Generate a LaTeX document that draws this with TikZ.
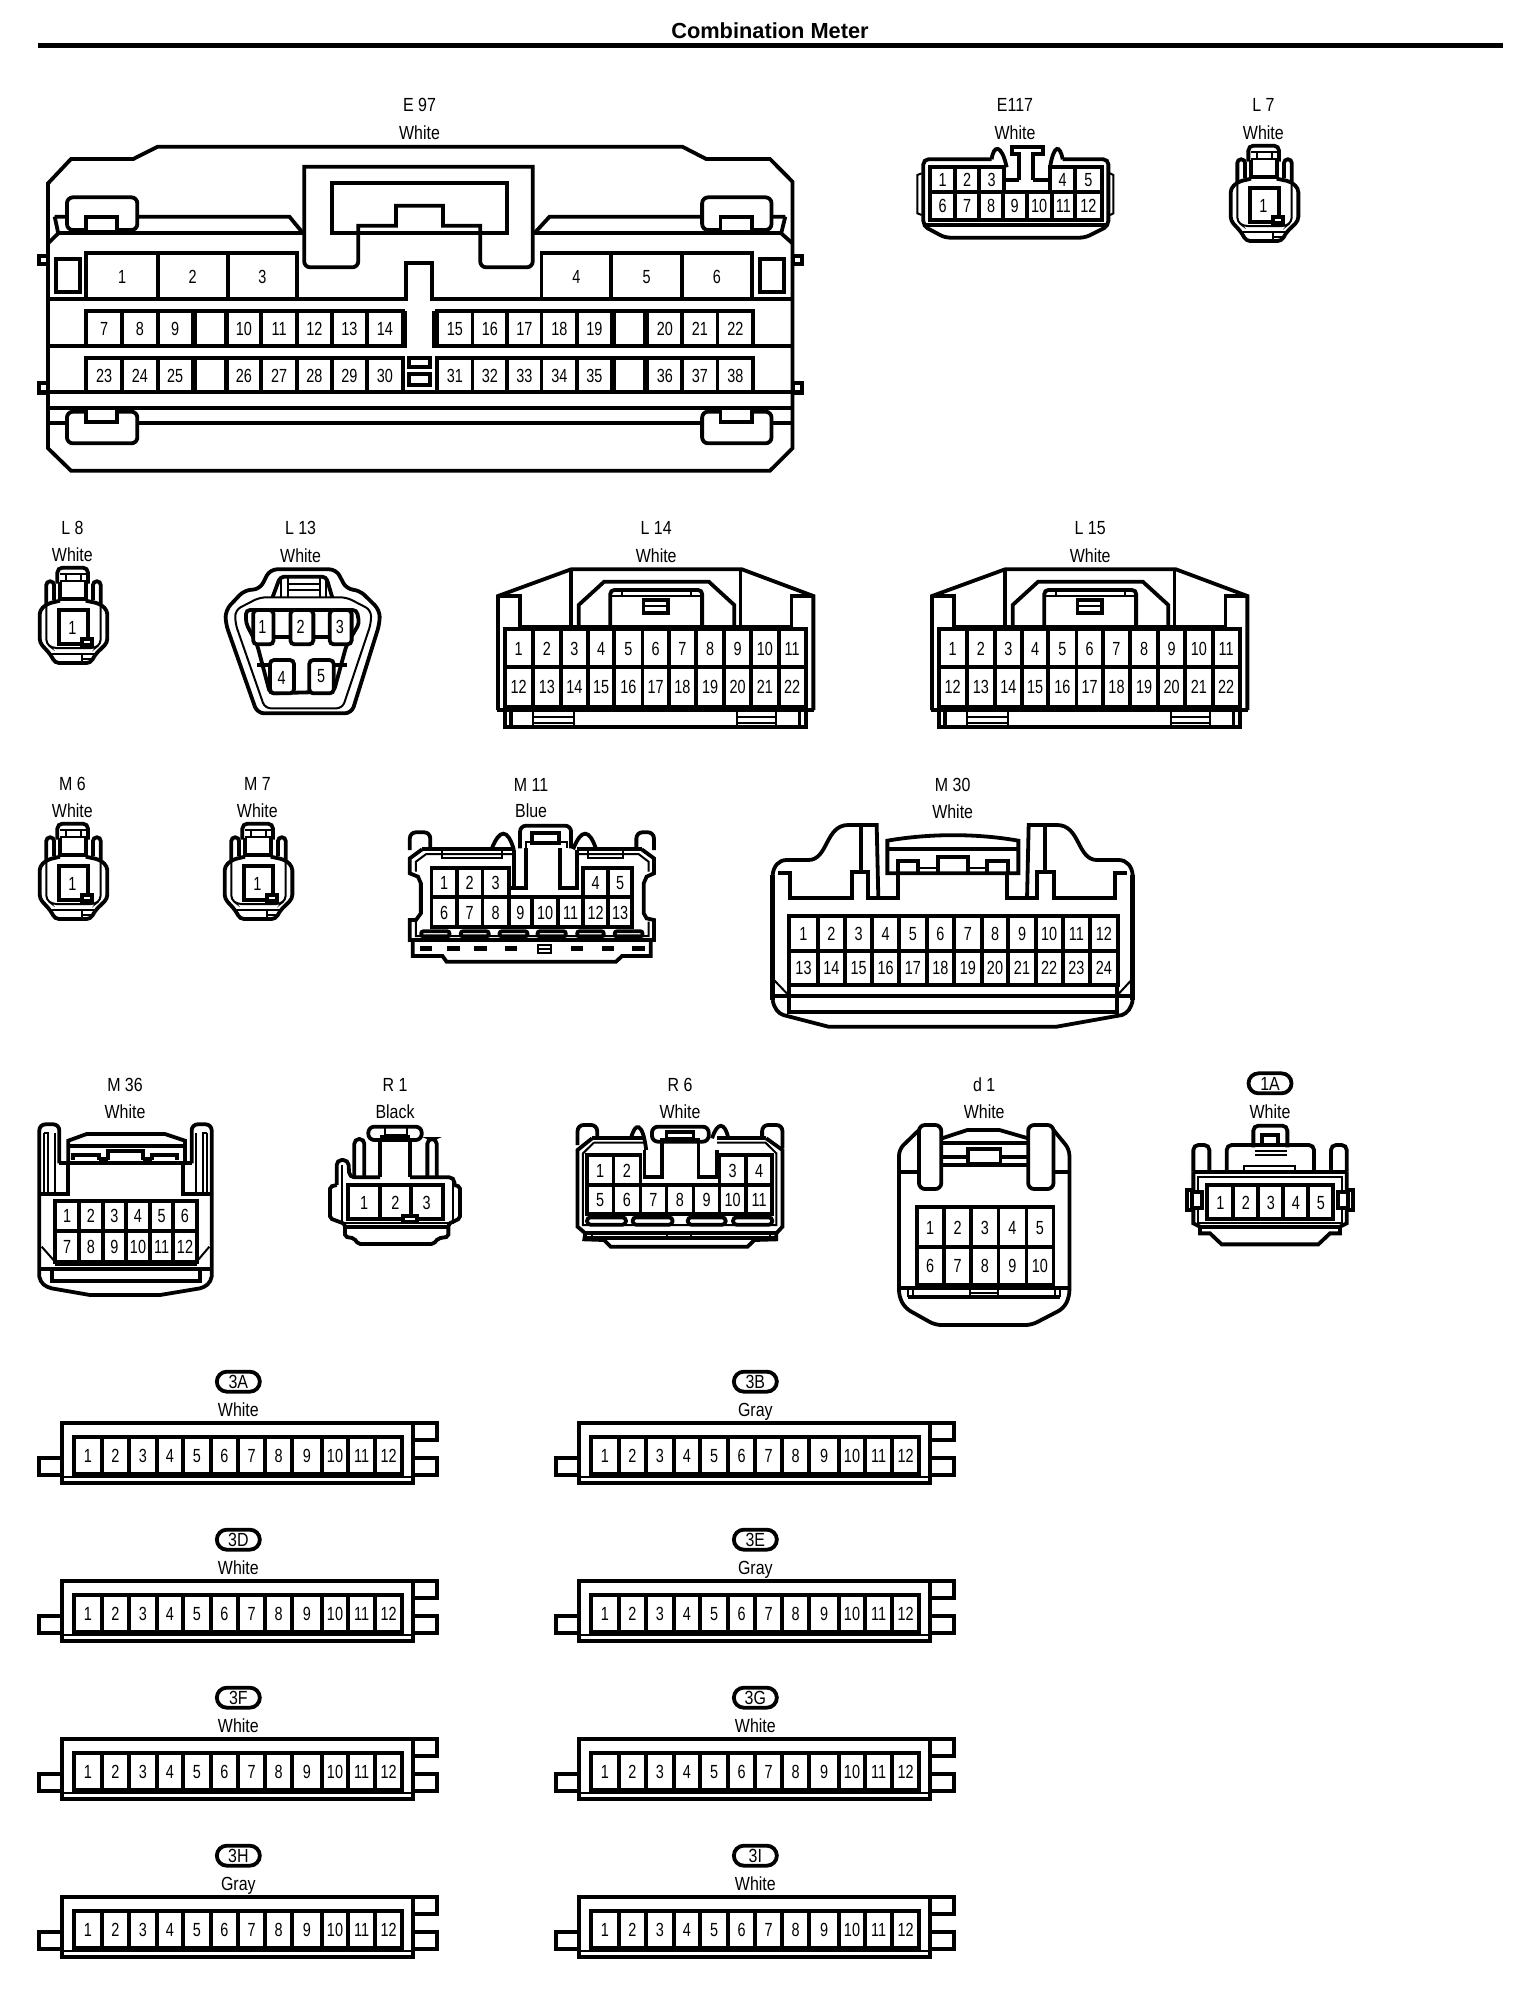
\documentclass[tikz,border=0pt]{standalone}
\usepackage{fontspec}
\usepackage{graphicx}
\setmainfont{Liberation Sans}
\newcounter{nid}
\tikzset{
  txt/.style={inner sep=0pt,outer sep=0pt,text height=7pt,text depth=0pt,font=\fontsize{9.5pt}{10pt}\selectfont},
  tn/.style={line width=1pt},
  wf/.style={fill=white},
  rd/.style={rounded corners=#1},
  pillbox/.style={draw,line width=1.9pt,rounded corners=5pt,minimum width=21.5pt,minimum height=10pt,inner sep=0pt,text height=7pt,text depth=0pt,font=\fontsize{9.5pt}{10pt}\selectfont},
  zA/.style={x=.2551pt,y=-.16667pt},
  zB/.style={x=.2041pt,y=-.16667pt},
  zC/.style={x=.16667pt,y=-.16667pt},
  zD/.style={x=.169pt,y=-.16667pt}
}
\newcommand\lbl[3]{\stepcounter{nid}\node[txt] (t\thenid) at (#1,#2) {\scalebox{.84}[1]{#3}};}
\newcommand\cellsx[4]{%
 \foreach \xb [count=\ii, remember=\xb as \xa (initially 0)] in {#3} {%
  \ifnum\ii>1
   \pgfmathsetmacro\xm{(\xa+\xb)/2}\pgfmathsetmacro\ym{(#1+#2)/2}\pgfmathtruncatemacro\pn{#4+\ii-2}%
   \stepcounter{nid}%
   \draw[wf] (\xa,#1) rectangle (\xb,#2);
   \node[txt] (n\thenid) at (\xm,\ym) {\scalebox{.76}[1]{\pn}};
  \fi}}
% ---- small one-pin connector (L7 family)
\newcommand\lsmall[3]{%
\begin{scope}[shift={(#1,#2)},zC]
 \lbl{1150}{75}{#3}\lbl{1150}{157}{White}
 \draw[rd=2.5pt] (1105,245)--(1105,197)--(1197,197)--(1197,245);
 \draw[tn] (1112,215)--(1190,215) (1112,238)--(1190,238) (1130,215)--(1130,238) (1175,215)--(1175,238);
 \draw (1113,240)--(1113,292)--(1190,292)--(1190,240);
 \draw[rd=1.8pt] (1072,312)--(1072,238)--(1095,238)--(1095,295);
 \draw[rd=1.8pt] (1212,295)--(1212,238)--(1235,238)--(1235,312);
 \draw[rd=2pt] (1113,296)--(1075,305)--(1052,325)--(1052,422)--(1085,458)--(1098,483)--(1205,483)--(1218,458)--(1255,422)--(1255,325)--(1232,305)--(1190,296);
 \draw[tn,rd=2pt] (1072,315)--(1072,425)--(1090,438)--(1218,438)--(1235,425)--(1235,315);
 \draw[tn] (1090,456)--(1218,456) (1180,456)--(1180,483) (1180,470)--(1205,470);
 \draw[wf] (1110,325) rectangle (1197,427);
 \draw[wf] (1178,412) rectangle (1210,430);
 \stepcounter{nid}\node[txt] (n\thenid) at (1150,375) {\scalebox{.76}[1]{1}};
\end{scope}}
% ---- L14 family
\newcommand\lbig[3]{%
\begin{scope}[shift={(#1,#2)},zA]
 \lbl{1247}{52}{#3}\lbl{1247}{137}{White}
 \draw (937,600)--(937,258)--(1080,178)--(1415,178)--(1555,258)--(1555,600);
 \draw (937,258)--(980,258)--(980,350)--(1080,350)--(1080,178);
 \draw (1555,258)--(1512,258)--(1512,350)--(1412,350)--(1412,178);
 \draw (1095,350)--(1095,285)--(1145,215)--(1350,215)--(1400,285)--(1400,350);
 \draw (1080,350)--(1412,350);
 \draw[rd=2pt] (1157,350)--(1157,240)--(1337,240)--(1337,350);
 \draw[tn] (1157,258)--(1337,258) (1180,240)--(1180,258) (1315,240)--(1315,258);
 \draw[wf] (1222,270) rectangle (1270,310);
 \draw[tn] (1222,288)--(1270,288);
 \draw (1080,350)--(1080,358) (1412,350)--(1412,358);
 \cellsx{358}{470}{950,1005,1060,1113,1165,1220,1272,1325,1380,1433,1487,1540}{1}
 \cellsx{470}{590}{950,1005,1060,1113,1165,1220,1272,1325,1380,1433,1487,1540}{12}
 \draw (935,600)--(1557,600);
 \draw (950,600)--(950,652)--(1540,652)--(1540,600);
 \draw (962,600)--(962,652) (1528,600)--(1528,652);
 \draw[tn] (1005,605)--(1005,652) (1085,605)--(1085,652) (1405,605)--(1405,652) (1482,605)--(1482,652);
 \draw[tn] (1005,622)--(1085,622) (1005,640)--(1085,640) (1405,622)--(1482,622) (1405,640)--(1482,640);
\end{scope}}
% ---- strip connector
\newcommand\stripc[4]{%
\begin{scope}[shift={(#1,#2)},zC]
 \stepcounter{nid}\node[pillbox] (p\thenid) at (655,65) {\scalebox{.84}[1]{#3}};
 \lbl{655}{148}{#4}
 \draw (1180,190)--(1252,190)--(1252,240)--(1180,240);
 \draw (1180,295)--(1252,295)--(1252,345)--(1180,345);
 \draw (127,295)--(58,295)--(58,345)--(127,345);
 \draw (127,190) rectangle (1180,370);
 \draw[tn] (127,352)--(1180,352);
 \cellsx{232}{342}{163,245,327,410,490,572,655,735,817,905,985,1065,1147}{1}
\end{scope}}
\begin{document}
\begin{tikzpicture}[x=.5pt,y=-.5pt,line width=1.9pt,line join=miter]
\useasboundingbox (0,0) rectangle (1536,1990);
\fill[white] (0,0) rectangle (1536,1990);
\node[inner sep=0pt,font=\bfseries\fontsize{10.9pt}{12pt}\selectfont] (title) at (770,31) {Combination Meter};
\coordinate (ruleL) at (38,45.7); \coordinate (ruleR) at (1503,45.7);
\draw[line width=2.3pt] (ruleL)--(ruleR);

% ============ E97
\begin{scope}[shift={(20,80)},zA]
 \lbl{783}{75}{E 97}\lbl{783}{157}{White}
 \draw (38,527) rectangle (55,553) (1516,527) rectangle (1532,553) (38,910) rectangle (55,940) (1516,910) rectangle (1532,940);
 \draw[wf] (55,310)--(100,237)--(222,237)--(270,200)--(1298,200)--(1345,237)--(1470,237)--(1514,305)--(1514,1105)--(1470,1172)--(100,1172)--(55,1105)--cycle;
 \draw (68,410)--(528,410)--(555,460) (75,460)--(68,410) (55,490)--(75,460);
 \draw (1500,410)--(1038,410)--(1008,460) (1492,460)--(1500,410) (1514,490)--(1492,460);
 \draw (75,460)--(555,460) (1008,460)--(1492,460);
 \draw[wf,rd=3pt] (92,352) rectangle (230,450);
 \draw[wf] (130,410) rectangle (190,456);
 \draw[wf,rd=3pt] (1337,352) rectangle (1473,450);
 \draw[wf] (1373,410) rectangle (1435,456);
 \draw[wf] (557,260) [rounded corners=3pt] --(557,562)--(663,562)--(663,500) [sharp corners] --(663,437)--(737,437)--(737,377)--(829,377)--(829,437)--(902,437)--(902,500) [rounded corners=3pt] --(902,562)--(1005,562)--(1005,500) [sharp corners] --(1005,260)--cycle;
 \draw (612,308) rectangle (955,460);
 \cellsx{520}{658}{130,270,407,543}{1}
 \cellsx{520}{658}{1022,1159,1297,1435}{4}
 \draw (70,538) rectangle (117,635) (1450,538) rectangle (1497,635);
 \draw (55,658)--(757,658)--(757,550)--(808,550)--(808,658)--(1514,658);
 \cellsx{693}{797}{130,200,270,338}{7}
 \draw (343,693) rectangle (403,797);
 \cellsx{693}{797}{405,473,543,611,680,750}{10}
 \cellsx{693}{797}{818,887,955,1022,1092,1160}{15}
 \draw (1165,693) rectangle (1225,797);
 \cellsx{693}{797}{1230,1298,1367,1437}{20}
 \draw (55,797)--(755,797)--(755,693) (1514,797)--(812,797)--(812,693);
 \cellsx{833}{937}{130,200,270,338}{23}
 \draw (343,833) rectangle (403,937);
 \cellsx{833}{937}{405,473,543,611,680,750}{26}
 \cellsx{833}{937}{818,887,955,1022,1092,1160}{31}
 \draw (1165,833) rectangle (1225,937);
 \cellsx{833}{937}{1230,1298,1367,1437}{36}
 \draw (763,833) rectangle (803,860) (763,882) rectangle (803,915);
 \draw (40,937)--(1532,937);
 \draw (55,983)--(1514,983) (55,1030)--(1514,1030);
 \draw[wf,rd=3pt] (92,995) rectangle (230,1090);
 \draw[wf] (130,985) rectangle (190,1027);
 \draw[wf,rd=3pt] (1337,995) rectangle (1473,1090);
 \draw[wf] (1373,985) rectangle (1435,1027);
\end{scope}

% ============ E117
\begin{scope}[shift={(880,80)},zC]
 \lbl{405}{75}{E117}\lbl{405}{157}{White}
 \draw[tn] (125,280)--(112,285)--(112,400)--(125,405) (690,280)--(700,285)--(700,400)--(690,405);
 \draw (335,238) .. controls (340,195) and (365,190) .. (380,262);
 \draw (510,262) .. controls (522,190) and (540,195) .. (548,238);
 \draw[rd=2.5pt] (335,238)--(130,238)--(130,438)--(195,473)--(615,473)--(685,438)--(685,238)--(548,238);
 \draw (130,436)--(685,436);
 \draw (150,262)--(150,420)--(665,420)--(665,262);
 \draw (417,300)--(417,222)--(395,222)--(395,200)--(488,200)--(488,222)--(460,222)--(460,300);
 \cellsx{262}{335}{150,225,298,372}{1}
 \cellsx{262}{335}{510,585,665}{4}
 \draw (372,300)--(417,300) (460,300)--(510,300);
 \cellsx{335}{420}{150,225,298,368,440,515,585,665}{6}
\end{scope}

\lsmall{880}{80}{L 7}
\lsmall{-311}{502}{L 8}
\lsmall{-311}{758}{M 6}
\lsmall{-126}{758}{M 7}

% ============ L13
\begin{scope}[shift={(20,510)},zA]
 \lbl{550}{52}{L 13}\lbl{550}{137}{White}
 \draw[rd=3.5pt] (470,238)--(490,178)--(620,178)--(640,238)--(665,240)--(705,300)--(705,340)--(650,610)--(465,610)--(403,340)--(403,300)--(440,240)--cycle;
 \draw[tn,rd=3pt] (470,262)--(640,262)--(688,300)--(688,340)--(632,595)--(480,595)--(422,340)--(422,300)--cycle;
 \draw[rd=2pt] (495,262)--(510,200)--(600,200)--(612,262);
 \draw[tn] (512,205)--(512,262) (600,205)--(600,262) (525,222)--(590,222) (525,240)--(590,240) (525,205)--(525,262) (588,205)--(588,262);
 \draw[rd=2pt] (443,300)--(660,300)--(665,340)--(640,405)--(615,545)--(490,550)--(465,405)--(443,340)--cycle;
 \draw[wf,rd=2pt] (457,300) rectangle (497,403);
 \draw[wf,rd=2pt] (530,300) rectangle (575,403);
 \draw[wf,rd=2pt] (607,300) rectangle (650,403);
 \draw (497,380)--(530,380) (575,380)--(607,380);
 \draw (465,465)--(490,465) (615,465)--(640,465);
 \draw[wf,rd=2pt] (490,450) rectangle (537,550);
 \draw[wf,rd=2pt] (567,450) rectangle (615,550);
 \foreach \nx/\ny/\nn in {475/350/1,550/350/2,627/350/3,513/502/4,590/497/5}{\stepcounter{nid}\node[txt] (n\thenid) at (\nx,\ny) {\scalebox{.76}[1]{\nn}};}
\end{scope}

\lbig{20}{510}{L 14}
\lbig{454}{510}{L 15}

% ============ M11
\begin{scope}[shift={(20,770)},zB]
 \lbl{1252}{42}{M 11}\lbl{1252}{122}{Blue}
 \draw[rd=3pt] (955,240)--(955,187)--(1005,187)--(1005,238);
 \draw[rd=3pt] (1510,238)--(1510,187)--(1553,187)--(1553,240);
 \draw (1155,238) .. controls (1175,175) and (1195,175) .. (1210,240);
 \draw (1355,238) .. controls (1375,175) and (1395,175) .. (1412,240);
 \draw[wf,rd=3pt] (1225,235)--(1225,167)--(1350,167)--(1350,235);
 \draw[wf] (1255,190) rectangle (1320,218);
 \draw[tn] (1240,235)--(1240,215)--(1340,215)--(1340,235);
 \draw (985,238)--(1210,238) (1365,238)--(1523,238);
 \draw (985,238)--(955,265)--(955,310)--(975,320)--(982,340)--(982,430)--(970,450)--(955,450)--(955,510)--(1553,510)--(1553,450)--(1535,445)--(1528,430)--(1528,340)--(1535,320)--(1553,310)--(1553,265)--(1523,238);
 \draw[tn] (995,252)--(970,275)--(970,305) (970,455)--(970,498)--(1540,498)--(1540,455) (1540,305)--(1540,275)--(1515,252)--(1365,252) (995,252)--(1210,252);
 \draw[tn] (1035,240)--(1035,264)--(1180,264)--(1180,240) (1392,240)--(1392,264)--(1478,264)--(1478,240);
 \draw (1210,240)--(1210,355)--(1240,355)--(1240,235) (1322,235)--(1322,355)--(1365,355)--(1365,240);
 \cellsx{295}{382}{1008,1070,1133,1197}{1}
 \cellsx{295}{382}{1380,1440,1500}{4}
 \draw (1197,355)--(1210,355);
 \draw (1197,382)--(1380,382);
 \cellsx{382}{470}{1008,1070,1133,1197,1255,1318,1380,1440,1500}{6}
 \foreach \ax/\bx in {983/1052,1080/1148,1175/1243,1268/1337,1365/1430,1457/1525}{\draw[rd=1pt] (\ax,484) rectangle (\bx,499);}
 \draw (962,515)--(962,558)--(1035,558)--(1045,575)--(1460,575)--(1475,558)--(1545,558)--(1545,515);
 \foreach \ax in {980,1047,1113,1187,1350,1425,1500}{\fill (\ax,528) rectangle ++(30,14);}
 \draw[tn] (1270,525) rectangle (1300,550);
 \draw[tn] (1270,537)--(1300,537);
\end{scope}

% ============ M30
\begin{scope}[shift={(750,770)},zC]
 \lbl{608}{42}{M 30}\lbl{608}{125}{White}
 \draw[line width=2.4pt] (68,315)--(68,690) (1148,315)--(1148,690);
 \draw (68,315) .. controls (70,290) and (85,270) .. (110,270)--(175,270) .. controls (235,270) and (225,165) .. (295,165)--(380,165)--(385,385);
 \draw (1148,315) .. controls (1146,290) and (1131,270) .. (1106,270)--(1041,270) .. controls (981,270) and (991,165) .. (921,165)--(836,165)--(831,385);
 \draw (332,165)--(332,305) (884,165)--(884,305);
 \draw (85,310)--(120,310)--(120,385)--(305,385)--(305,307)--(355,307)--(355,385)--(445,385)--(445,310);
 \draw (1131,310)--(1096,310)--(1096,385)--(911,385)--(911,307)--(861,307)--(861,385)--(771,385)--(771,310);
 \draw (412,310)--(412,212) .. controls (540,190) and (680,190) .. (805,212)--(805,310)--cycle;
 \draw (412,238)--(805,238);
 \draw (445,305)--(445,272)--(505,272)--(505,305) (712,305)--(712,272)--(775,272)--(775,305);
 \draw (565,305)--(565,262)--(655,262)--(655,305);
 \draw[tn] (505,295)--(565,295) (655,295)--(712,295);
 \draw (118,438) rectangle (1103,645);
 \cellsx{438}{542}{118,203,285,367,447,530,612,695,775,857,938,1020,1103}{1}
 \cellsx{542}{645}{118,203,285,367,447,530,612,695,775,857,938,1020,1103}{13}
 \draw (68,678)--(1148,678);
 \draw (118,645)--(118,725)--(1100,725)--(1100,645);
 \draw[tn] (72,630)--(118,678) (1144,630)--(1100,678);
 \draw (68,690) .. controls (72,715) and (85,730) .. (100,735)--(235,770)--(920,770)--(1116,735) .. controls (1131,730) and (1144,715) .. (1148,690);
\end{scope}

% ============ M36
\begin{scope}[shift={(20,1070)},zC]
 \lbl{315}{42}{M 36}\lbl{315}{125}{White}
 \draw[rd=3pt] (58,372)--(58,163)--(118,163)--(118,280);
 \draw[rd=3pt] (575,372)--(575,163)--(515,163)--(515,280);
 \draw[tn] (72,190)--(72,370) (72,190)--(85,190)--(85,370) (105,190)--(105,370);
 \draw[tn] (561,190)--(561,370) (561,190)--(548,190)--(548,370) (528,190)--(528,370);
 \draw (145,280)--(145,212)--(200,192)--(435,192)--(495,212)--(495,280);
 \draw (145,228)--(495,228);
 \draw (160,270)--(160,255)--(238,255)--(238,270) (395,270)--(395,255)--(470,255)--(470,270) (265,270)--(265,243)--(368,243)--(368,270);
 \draw (238,268)--(265,268) (368,268)--(395,268);
 \draw (118,280)--(515,280);
 \draw (145,280)--(145,372)--(58,372) (488,280)--(488,372)--(575,372);
 \draw (58,372)--(58,620) .. controls (62,640) and (75,650) .. (95,655)--(210,675)--(420,675)--(540,655) .. controls (558,650) and (571,640) .. (575,620)--(575,372);
 \cellsx{392}{482}{105,178,248,318,390,460,530}{1}
 \cellsx{482}{575}{105,178,248,318,390,460,530}{7}
 \draw[tn] (65,530)--(105,575) (568,530)--(530,575);
 \draw (60,598)--(573,598);
 \draw[tn] (105,586)--(530,586);
 \draw (95,600)--(95,632)--(540,632)--(540,600);
\end{scope}

% ============ R1
\begin{scope}[shift={(20,1070)},zC]
 \lbl{1125}{42}{R 1}\lbl{1125}{125}{Black}
 \draw[rd=2.4pt] (1003,318)--(1003,207)--(1033,207)--(1033,318);
 \draw[rd=2.4pt] (1222,318)--(1222,207)--(1250,207)--(1250,318);
 \draw[wf,rd=3pt] (1045,170) rectangle (1205,210);
 \draw[tn] (1095,170) rectangle (1160,195);
 \draw (1080,200)--(1170,200);
 \draw (1080,205)--(1080,322) (1170,205)--(1170,322);
 \draw[rd=2.5pt] (950,345)--(950,270)--(985,270)--(988,322)--(1080,322);
 \draw[rd=2.5pt] (1170,322)--(1303,322)--(1303,345);
 \draw[tn] (965,285)--(965,458)--(1300,458)--(1300,335);
 \draw[rd=1pt] (950,345)--(930,350)--(930,445)--(975,462)--(975,500)--(1002,505)--(1015,522)--(1240,522)--(1255,505)--(1285,500)--(1285,462)--(1320,445)--(1320,350)--(1303,345);
 \draw (975,470)--(1285,470);
 \cellsx{345}{447}{985,1080,1172,1268}{1}
 \draw[wf] (1150,437) rectangle (1190,455);
\end{scope}

% ============ R6
\begin{scope}[shift={(560,1070)},zD]
 \lbl{355}{42}{R 6}\lbl{355}{125}{White}
 \draw[rd=3pt] (52,225)--(52,165)--(110,165)--(110,205);
 \draw[rd=3pt] (598,205)--(598,165)--(658,165)--(658,235);
 \draw (210,205) .. controls (222,155) and (245,155) .. (255,240);
 \draw (450,205) .. controls (465,155) and (488,155) .. (498,205);
 \draw (95,205)--(250,205) (465,205)--(610,205);
 \draw (95,205)--(52,240)--(52,470)--(75,490)--(72,508)--(130,510)--(150,530)--(555,530)--(575,510)--(640,508)--(640,490)--(658,470)--(658,240)--(610,205);
 \draw[tn] (100,218)--(68,250)--(68,465)--(640,465)--(640,250)--(608,218)--(465,218) (100,218)--(250,218);
 \draw[wf,rd=3pt] (272,215)--(272,170)--(440,170)--(440,215)--cycle;
 \draw[wf] (315,185) rectangle (395,207);
 \draw (295,210)--(415,210);
 \draw (250,240)--(250,322)--(302,322)--(302,215) (410,215)--(410,322)--(465,322)--(465,240);
 \cellsx{255}{345}{80,158,238}{1}
 \cellsx{255}{345}{472,550,628}{3}
 \draw (238,345)--(472,345);
 \cellsx{345}{432}{80,158,238,315,395,472,550,628}{5}
 \foreach \ax/\bx in {80/195,215/333,378/490,512/628}{\draw[rd=1.7pt] (\ax,442) rectangle (\bx,464);}
 \draw (72,490)--(640,490);
 \draw (72,505)--(640,505);
 \draw[tn] (95,490)--(95,505) (620,490)--(620,505) (318,490)--(318,505) (387,490)--(387,505);
\end{scope}

% ============ d1
\begin{scope}[shift={(560,1070)},zD]
 \lbl{1255}{42}{d 1}\lbl{1255}{125}{White}
 \draw[rd=3pt] (1062,180)--(1003,238)--(1003,680)--(1022,715)--(1110,765)--(1395,765)--(1490,715)--(1507,680)--(1507,238)--(1460,180);
 \draw (1003,305)--(1062,305) (1460,305)--(1507,305);
 \draw (1130,205)--(1205,180)--(1300,180)--(1385,205);
 \draw (1130,218)--(1385,218) (1130,285)--(1385,285);
 \draw (1130,260)--(1385,260);
 \draw[wf] (1207,238) rectangle (1303,282);
 \draw[wf,rd=3pt] (1062,357)--(1062,165)--(1128,165)--(1128,357)--cycle;
 \draw[wf,rd=3pt] (1385,357)--(1385,165)--(1460,165)--(1460,357)--cycle;
 \cellsx{412}{530}{1055,1135,1217,1297,1380,1460}{1}
 \cellsx{530}{645}{1055,1135,1217,1297,1380,1460}{6}
 \draw (1003,655)--(1507,655);
 \draw (1030,682)--(1480,682);
 \draw[tn] (1030,660)--(1030,682) (1045,660)--(1045,682) (1465,660)--(1465,682) (1480,660)--(1480,682) (1212,660)--(1212,682) (1297,660)--(1297,682) (1212,670)--(1297,670);
\end{scope}

% ============ 1A
\begin{scope}[shift={(1170,1060)},zC]
 \stepcounter{nid}\node[pillbox] (p\thenid) at (300,70) {\scalebox{.84}[1]{1A}};
 \lbl{300}{155}{White}
 \draw[rd=2.5pt] (250,262)--(250,197)--(352,197)--(352,262);
 \draw (275,262)--(275,225)--(325,225)--(325,262);
 \draw[rd=2.5pt] (70,335)--(70,255)--(118,255)--(118,330);
 \draw[rd=2.5pt] (483,330)--(483,255)--(530,255)--(530,335);
 \draw[rd=2.5pt] (170,330)--(170,255)--(432,255)--(432,330);
 \draw[tn] (255,272)--(350,272) (255,286)--(350,286);
 \draw[tn] (222,333)--(222,318)--(375,318)--(375,333);
 \draw (70,335)--(530,335);
 \draw (70,335)--(70,490)--(90,500)--(90,520)--(120,520)--(155,553)--(445,553)--(480,520)--(510,520)--(510,500)--(530,490)--(530,335);
 \draw[tn] (85,350) rectangle (515,490);
 \draw (90,502)--(510,502);
 \cellsx{375}{478}{112,190,265,340,415,490}{1}
 \draw[wf] (50,390) rectangle (70,450);
 \draw[wf] (65,395) rectangle (95,445);
 \draw[wf] (530,390) rectangle (548,450);
 \draw[wf] (505,395) rectangle (535,445);
\end{scope}

% ============ strips
\stripc{20}{1360}{3A}{White}
\stripc{537}{1360}{3B}{Gray}
\stripc{20}{1518}{3D}{White}
\stripc{537}{1518}{3E}{Gray}
\stripc{20}{1676}{3F}{White}
\stripc{537}{1676}{3G}{White}
\stripc{20}{1834}{3H}{Gray}
\stripc{537}{1834}{3I}{White}
\end{tikzpicture}
\end{document}
